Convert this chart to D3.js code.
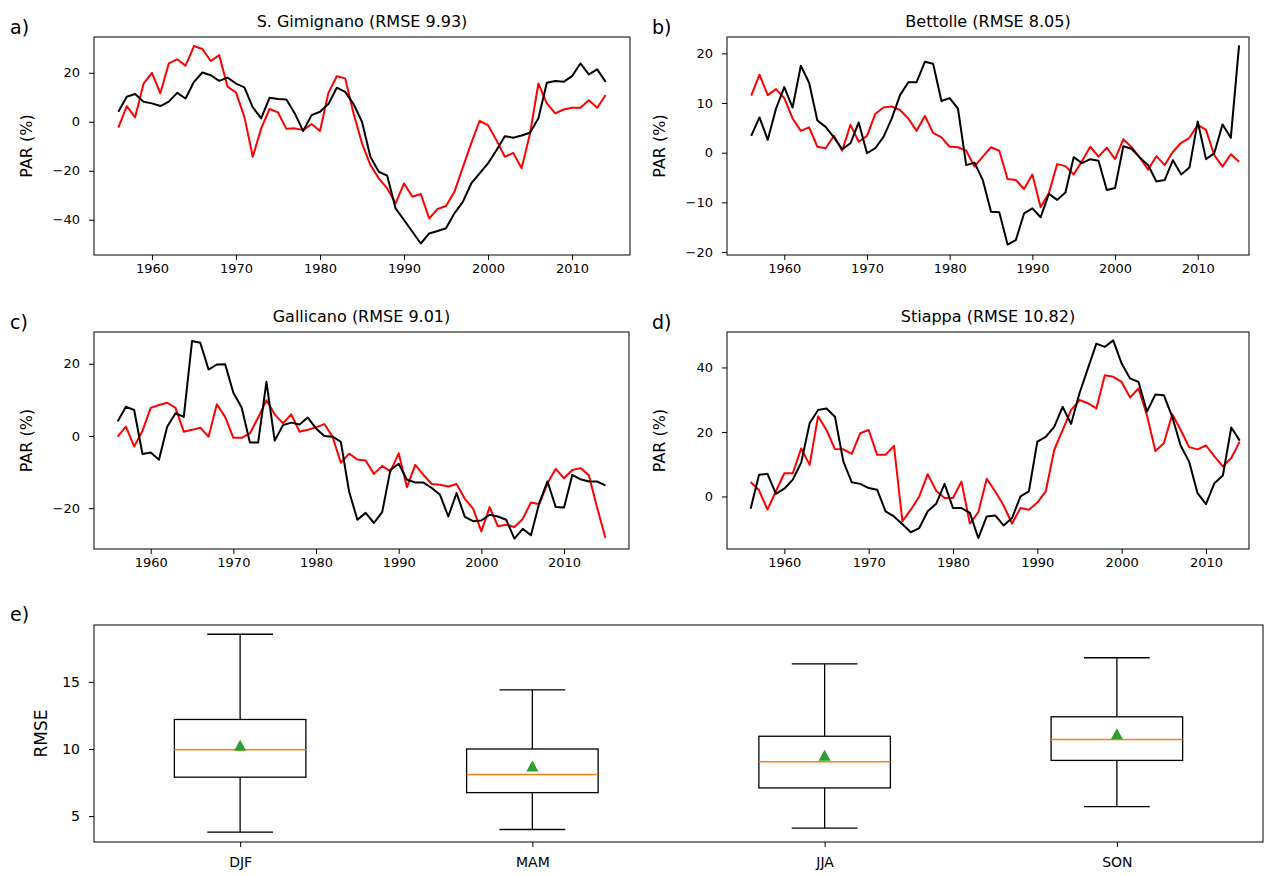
<!DOCTYPE html>
<html>
<head>
<meta charset="utf-8">
<script src="https://cdn.jsdelivr.net/npm/d3@7"></script>
<style>
  body { margin: 0; background: #fff; }
  svg text { font-family: "DejaVu Sans", sans-serif; fill: #000; }
  .axis line { stroke: #000; stroke-width: 1; }
  .axis text { font-size: 13px; }
  .axis.big text { font-size: 14px; }
</style>
</head>
<body>
<div id="main"></div>
<script>
// first year of every series
const startYear = 1956;

// S. Gimignano
const gimObs = [4.1, 10.2, 11.3, 8.2, 7.5, 6.4, 8.2, 11.8, 9.5, 16.3, 20.1, 19, 16.7, 18, 15.6, 14, 5.9, 1.4, 9.8, 9.3,
  9.1, 3.4, -3.8, 2.7, 4.1, 7.2, 13.9, 12.2, 7.2, 0, -14.3, -20.4, -22, -35.4, -40.1, -44.9, -49.7, -45.6, -44.6, -43.5,
  -37.4, -32.7, -25.2, -21.1, -17, -11.6, -5.9, -6.5, -5.6, -4.5, 1.4, 15.9, 16.6, 16.3, 18.6, 23.8, 19.3, 21.4, 16.3];
const gimSim = [-2.4, 6.4, 1.8, 15.6, 20, 11.6, 23.8, 25.5, 22.9, 30.9, 29.7, 24.8, 27.2, 14.3, 12, 2, -14.3, -2.7, 5.2, 3.8,
  -2.9, -2.7, -3.4, -0.9, -3.8, 11.8, 18.6, 17.7, 3.4, -8.8, -17.7, -23.1, -27.2, -33.3, -25.2, -30.6, -29.5, -39.5, -35.6, -34.4,
  -28.6, -18.6, -8.8, 0.4, -1.4, -7.5, -14.3, -12.7, -19, -4.8, 15.6, 7.5, 3.4, 5, 5.7, 5.7, 8.8, 5.7, 10.9];

// Bettolle
const betObs = [3.4, 7.1, 2.6, 8.9, 13.2, 9.1, 17.5, 14.1, 6.5, 5.2, 3.1, 0.7, 1.9, 6.1, -0.1, 0.9, 3.2, 6.9, 11.6, 14.2,
  14.2, 18.3, 17.9, 10.4, 11, 8.9, -2.5, -2, -5.5, -11.9, -12, -18.5, -17.6, -12.2, -11.2, -13, -8.3, -9.5, -8, -0.9,
  -2.1, -1.3, -1.6, -7.5, -7.1, 1.3, 0.8, -1, -2.5, -5.8, -5.5, -1.5, -4.4, -3, 6.3, -1.3, -0.1, 5.7, 3, 21.6];
const betSim = [11.5, 15.7, 11.6, 12.8, 11, 6.9, 4.4, 5.1, 1.2, 0.9, 3.4, 0.4, 5.6, 2.2, 3.4, 7.8, 9.1, 9.3, 8.6, 6.9,
  4.4, 7.4, 4, 3.1, 1.2, 1.1, 0.4, -2.8, -0.8, 1.1, 0.4, -5.3, -5.5, -7.3, -4.4, -11, -8.1, -2.3, -2.7, -4.4,
  -1.7, 1.2, -0.8, 1, -1.3, 2.7, 1.1, -1, -3.4, -0.7, -2.5, 0.2, 2, 3, 5.6, 4.6, -0.5, -2.8, -0.3, -1.8];

// Gallicano
const galObs = [4, 8.1, 7.2, -5, -4.6, -6.6, 2.6, 6.3, 5.3, 26.3, 25.8, 18.4, 19.8, 19.9, 12, 7.9, -1.8, -1.8, 15, -1.3,
  3, 3.7, 3.2, 5.1, 2.1, 0, -0.2, -1.6, -15.4, -23.2, -21.3, -24.1, -21.1, -9.4, -7.7, -12.1, -12.9, -12.9, -14.4, -16.3,
  -22.3, -15.8, -22.4, -23.6, -23.4, -21.8, -22.3, -23.2, -28.4, -25.7, -27.5, -18.6, -12.6, -19.7, -19.8, -10.8, -12, -12.6, -12.6, -13.7];
const galSim = [-0.2, 2.6, -2.9, 1.4, 7.8, 8.6, 9.2, 7.8, 1.2, 1.7, 2.3, -0.2, 8.8, 5.3, -0.5, -0.5, 0.7, 5.1, 9.9, 6,
  3.5, 6, 1.2, 1.7, 2.4, 3.3, -0.2, -7.4, -4.9, -6.5, -6.8, -10.5, -8.3, -9.8, -4.8, -14.2, -8, -10.8, -13.3, -13.5,
  -14, -13.3, -17.4, -20.1, -26.4, -19.7, -25, -24.6, -25.2, -23, -18.4, -18.9, -13.1, -9.1, -11.7, -9.4, -8.9, -10.9, -19.8, -28.2];

// Stiappa
const stiObs = [-3.8, 6.7, 7, 0.8, 2.4, 5.2, 10.5, 22.7, 26.8, 27.3, 24.7, 10.8, 4.4, 3.9, 2.6, 2.1, -4.6, -6.2, -8.6, -11.1,
  -9.8, -4.6, -2.3, 3.9, -3.6, -3.6, -5.1, -12.9, -6.2, -5.9, -9, -6.7, 0, 1.6, 17, 18.5, 21.6, 27.8, 22.5, 32,
  39.7, 47.4, 46.4, 48.4, 41.2, 36.6, 35.5, 26.3, 31.6, 31.4, 24.7, 15.7, 10.8, 1, -2.4, 4.1, 6.5, 21.4, 17.3];
const stiSim = [4.5, 1.9, -4.1, 1.6, 7.2, 7.2, 14.9, 9.8, 24.9, 20.6, 14.7, 14.6, 13.2, 19.6, 20.6, 12.9, 12.9, 15.7, -7.7, -4.1,
  0, 6.9, 1.8, -0.5, -0.5, 4.6, -8.4, -4.9, 5.5, 1.6, -2.8, -8.4, -3.6, -4.1, -1.9, 1.6, 14.4, 20.6, 26.8, 29.9,
  28.9, 27.3, 37.6, 37.1, 35.5, 30.7, 33.5, 25.2, 14.1, 16.5, 25.5, 20.6, 15.3, 14.6, 15.8, 12.4, 9.3, 11.9, 17];

// seasonal RMSE boxplot
const seasons = ["DJF", "MAM", "JJA", "SON"];
const whiskLo = [3.8, 4.0, 4.1, 5.7];
const q1 = [7.9, 6.75, 7.1, 9.15];
const med = [9.95, 8.1, 9.05, 10.7];
const q3 = [12.2, 10.0, 10.95, 12.4];
const whiskHi = [18.55, 14.4, 16.35, 16.8];
const means = [10.25, 8.7, 9.5, 11.1];

const xTicks = [1960, 1970, 1980, 1990, 2000, 2010];

const panels = [
  { tag: "a)", title: "S. Gimignano (RMSE 9.93)", obs: gimObs, sim: gimSim,
    box: [94, 37, 630, 255], xd: [1953.1, 2016.9], yd: [-54.4, 34.6], yt: [-40, -20, 0, 20] },
  { tag: "b)", title: "Bettolle (RMSE 8.05)", obs: betObs, sim: betSim,
    box: [727, 37, 1249, 255], xd: [1953.07, 2016.2], yd: [-20.6, 23.3], yt: [-20, -10, 0, 10, 20] },
  { tag: "c)", title: "Gallicano (RMSE 9.01)", obs: galObs, sim: galSim,
    box: [94, 332, 629, 549], xd: [1953.14, 2017.86], yd: [-31.3, 28.8], yt: [-20, 0, 20] },
  { tag: "d)", title: "Stiappa (RMSE 10.82)", obs: stiObs, sim: stiSim,
    box: [727, 332, 1249, 549], xd: [1953.2, 2015.1], yd: [-16.3, 51], yt: [0, 20, 40] }
];

const svg = d3.select("#main").append("svg")
  .attr("width", 1269)
  .attr("height", 876);

function frame(b) {
  svg.append("rect")
    .attr("x", b[0]).attr("y", b[1])
    .attr("width", b[2] - b[0]).attr("height", b[3] - b[1])
    .attr("fill", "none").attr("stroke", "#000").attr("stroke-width", 1);
}

panels.forEach(p => {
  const [x0, y0, x1, y1] = p.box;
  const x = d3.scaleLinear().domain(p.xd).range([x0, x1]);
  const y = d3.scaleLinear().domain(p.yd).range([y1, y0]);

  svg.append("g").attr("class", "axis")
    .attr("transform", `translate(0,${y1})`)
    .call(d3.axisBottom(x).tickValues(xTicks).tickFormat(d3.format("d")).tickSize(5).tickPadding(4))
    .call(g => g.select(".domain").remove());

  svg.append("g").attr("class", "axis")
    .attr("transform", `translate(${x0},0)`)
    .call(d3.axisLeft(y).tickValues(p.yt).tickFormat(d => d < 0 ? "\u2212" + Math.abs(d) : d).tickSize(5).tickPadding(9))
    .call(g => g.select(".domain").remove());

  const line = d3.line()
    .x((d, i) => x(startYear + i))
    .y(d => y(d));

  svg.append("path").datum(p.sim)
    .attr("d", line).attr("fill", "none")
    .attr("stroke", "#ff0000").attr("stroke-width", 2).attr("stroke-linejoin", "round");
  svg.append("path").datum(p.obs)
    .attr("d", line).attr("fill", "none")
    .attr("stroke", "#000").attr("stroke-width", 2).attr("stroke-linejoin", "round");

  frame(p.box);

  svg.append("text")
    .attr("x", (x0 + x1) / 2).attr("y", y0 - 10)
    .attr("text-anchor", "middle").style("font-size", "16px")
    .text(p.title);

  svg.append("text")
    .attr("x", x0 < 400 ? 10 : 652).attr("y", y0 - 3)
    .style("font-size", "19px")
    .text(p.tag);

  svg.append("text")
    .attr("transform", `translate(${x0 - 62},${(y0 + y1) / 2}) rotate(-90)`)
    .attr("text-anchor", "middle").style("font-size", "16px")
    .text("PAR (%)");
});

// panel e
const eBox = [94, 625, 1263, 842];
const ex = d3.scaleLinear().domain([0.5, 4.5]).range([eBox[0], eBox[2]]);
const ey = d3.scaleLinear().domain([3.07, 19.24]).range([eBox[3], eBox[1]]);
const boxW = 0.45;

svg.append("g").attr("class", "axis big")
  .attr("transform", `translate(0,${eBox[3]})`)
  .call(d3.axisBottom(ex).tickValues([1, 2, 3, 4]).tickFormat(d => seasons[d - 1]).tickSize(5).tickPadding(10))
  .call(g => g.select(".domain").remove());

svg.append("g").attr("class", "axis big")
  .attr("transform", `translate(${eBox[0]},0)`)
  .call(d3.axisLeft(ey).tickValues([5, 10, 15]).tickSize(5).tickPadding(9))
  .call(g => g.select(".domain").remove());

const stats = seasons.map((s, i) => ({
  pos: i + 1, lo: whiskLo[i], q1: q1[i], med: med[i], q3: q3[i], hi: whiskHi[i], mean: means[i]
}));

const bx = svg.append("g").selectAll("g").data(stats).join("g");

// whiskers
bx.append("line")
  .attr("x1", d => ex(d.pos)).attr("x2", d => ex(d.pos))
  .attr("y1", d => ey(d.q3)).attr("y2", d => ey(d.hi))
  .attr("stroke", "#000").attr("stroke-width", 1.3);
bx.append("line")
  .attr("x1", d => ex(d.pos)).attr("x2", d => ex(d.pos))
  .attr("y1", d => ey(d.q1)).attr("y2", d => ey(d.lo))
  .attr("stroke", "#000").attr("stroke-width", 1.3);
// caps
[["hi"], ["lo"]].forEach(([k]) => {
  bx.append("line")
    .attr("x1", d => ex(d.pos - boxW / 4)).attr("x2", d => ex(d.pos + boxW / 4))
    .attr("y1", d => ey(d[k])).attr("y2", d => ey(d[k]))
    .attr("stroke", "#000").attr("stroke-width", 1.3);
});
// boxes
bx.append("rect")
  .attr("x", d => ex(d.pos - boxW / 2))
  .attr("width", d => ex(d.pos + boxW / 2) - ex(d.pos - boxW / 2))
  .attr("y", d => ey(d.q3))
  .attr("height", d => ey(d.q1) - ey(d.q3))
  .attr("fill", "none").attr("stroke", "#000").attr("stroke-width", 1.3);
// medians
bx.append("line")
  .attr("x1", d => ex(d.pos - boxW / 2)).attr("x2", d => ex(d.pos + boxW / 2))
  .attr("y1", d => ey(d.med)).attr("y2", d => ey(d.med))
  .attr("stroke", "#ff7f0e").attr("stroke-width", 1.5);
// means
bx.append("path")
  .attr("transform", d => `translate(${ex(d.pos)},${ey(d.mean)})`)
  .attr("d", "M0,-6L6,5L-6,5Z")
  .attr("fill", "#2ca02c");

frame(eBox);

svg.append("text")
  .attr("x", 10).attr("y", eBox[1] - 4)
  .style("font-size", "19px")
  .text("e)");

svg.append("text")
  .attr("transform", `translate(47,${(eBox[1] + eBox[3]) / 2}) rotate(-90)`)
  .attr("text-anchor", "middle").style("font-size", "17px")
  .text("RMSE");
</script>
</body>
</html>
